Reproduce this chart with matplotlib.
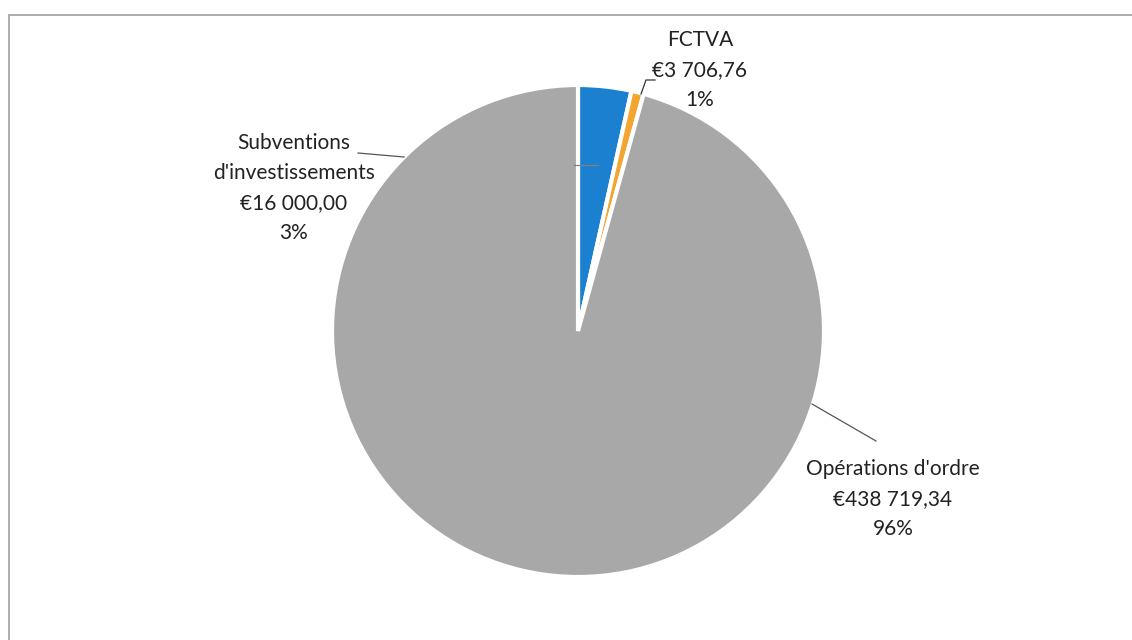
import matplotlib.pyplot as plt
from matplotlib.patches import Rectangle, Circle

# données
categories = ["Subventions\nd'investissements", "FCTVA", "Opérations d'ordre"]
montants = [16000.00, 3706.76, 438719.34]
montants_txt = ["€16 000,00", "€3 706,76", "€438 719,34"]
pourcents = ["3%", "1%", "96%"]
couleurs = ["#1b80d0", "#f2a630", "#a8a8a8"]

W, H = 1132, 640

def py(y):
    # coordonnée pixel (depuis le haut) -> coordonnée des axes
    return H - y

plt.rcParams['font.family'] = ['Lato', 'DejaVu Sans']

fig = plt.figure(figsize=(W / 100, H / 100), dpi=100)
ax = fig.add_axes([0, 0, 1, 1])

ax.pie(montants, colors=couleurs, startangle=90, counterclock=False,
       center=(578, py(331)), radius=246,
       wedgeprops=dict(edgecolor='white', linewidth=3))
ax.add_patch(Circle((578, py(331)), 246.5, fill=False, edgecolor='#6a6a6a',
                    linewidth=0.8, zorder=0))

# cadre scanné
ax.add_patch(Rectangle((9, -20), W + 40, py(15) + 20, fill=False,
                       edgecolor='#a0a0a0', linewidth=1.2))

# étiquettes
pos = [(294, 188), (700, 70), (893, 499)]
for cat, m, p, (x, y) in zip(categories, montants_txt, pourcents, pos):
    ax.text(x, py(y), f"{cat}\n{m}\n{p}", ha='center', va='center',
            fontsize=15, color='#222222', linespacing=1.62)

# lignes de rappel
ax.plot([358, 404], [py(153), py(157)], color='#555555', lw=0.9)
ax.plot([574, 598], [py(165), py(165)], color='#808080', lw=0.9)
ax.plot([655, 646, 641], [py(80), py(80), py(94)], color='#333333', lw=0.9)
ax.plot([812, 876], [py(404), py(441)], color='#555555', lw=0.9)

ax.set_xlim(0, W)
ax.set_ylim(0, H)
ax.set_aspect('auto')
ax.axis('off')

fig.savefig("out.png", dpi=100, facecolor='white')
